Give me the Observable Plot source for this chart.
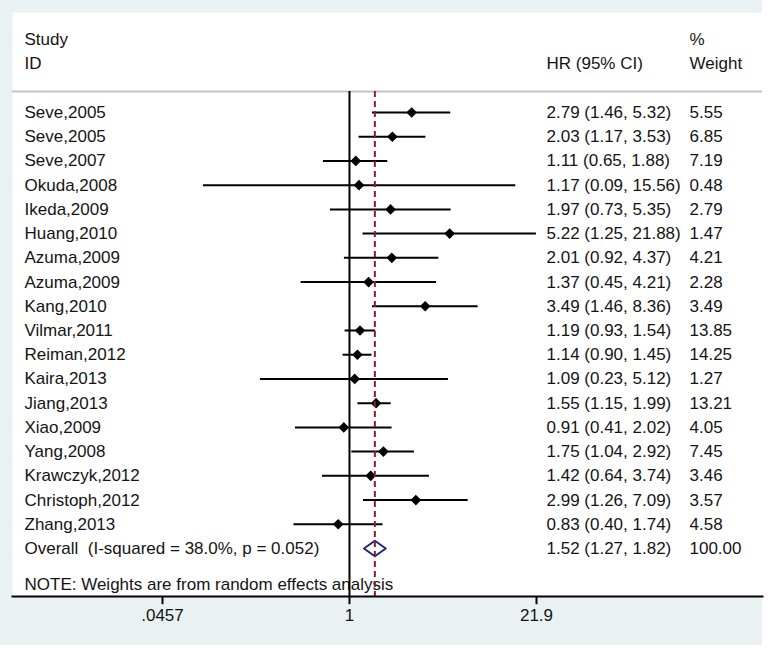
<!DOCTYPE html>
<html>
<head>
<meta charset="utf-8">
<script src="https://cdn.jsdelivr.net/npm/d3@7"></script>
<script src="https://cdn.jsdelivr.net/npm/@observablehq/plot@0.6"></script>
<style>
  html, body { margin: 0; padding: 0; background: #ffffff; }
  #wrap { position: relative; width: 768px; height: 651px; }
  #bg { position: absolute; left: 0; top: 0; width: 762px; height: 645px; background: #eaf1f3; }
  #chart { position: absolute; left: 0; top: 0; }
</style>
</head>
<body>
<div id="wrap"><div id="bg"></div><div id="chart"></div></div>
<script>
const studies = ["Seve,2005","Seve,2005","Seve,2007","Okuda,2008","Ikeda,2009","Huang,2010","Azuma,2009","Azuma,2009","Kang,2010","Vilmar,2011","Reiman,2012","Kaira,2013","Jiang,2013","Xiao,2009","Yang,2008","Krawczyk,2012","Christoph,2012","Zhang,2013"];
const hr = [2.79,2.03,1.11,1.17,1.97,5.22,2.01,1.37,3.49,1.19,1.14,1.09,1.55,0.91,1.75,1.42,2.99,0.83];
const lo = [1.46,1.17,0.65,0.09,0.73,1.25,0.92,0.45,1.46,0.93,0.90,0.23,1.15,0.41,1.04,0.64,1.26,0.40];
const hi = [5.32,3.53,1.88,15.56,5.35,21.88,4.37,4.21,8.36,1.54,1.45,5.12,1.99,2.02,2.92,3.74,7.09,1.74];
const weights = [5.55,6.85,7.19,0.48,2.79,1.47,4.21,2.28,3.49,13.85,14.25,1.27,13.21,4.05,7.45,3.46,3.57,4.58];
const overallLabel = "Overall\u00a0 (I-squared = 38.0%, p = 0.052)";
const overallHR = 1.52, overallLo = 1.27, overallHi = 1.82, overallWeight = 100.00;
const tickValues = [0.0457, 1, 21.9];
const tickLabels = [".0457", "1", "21.9"];
const noteText = "NOTE: Weights are from random effects analysis";

const fmt = v => v.toFixed(2);
const rows = studies.map((s, i) => ({
  i, study: s, hr: hr[i], lo: lo[i], hi: hi[i],
  ci: `${fmt(hr[i])} (${fmt(lo[i])}, ${fmt(hi[i])})`,
  w: fmt(weights[i])
}));
const oi = studies.length;
const overallRow = {i: oi, study: overallLabel,
  ci: `${fmt(overallHR)} (${fmt(overallLo)}, ${fmt(overallHi)})`, w: fmt(overallWeight)};
const textRows = [...rows, overallRow];
const dh = 0.32;
const diamond = [
  {x: overallLo, y: oi}, {x: overallHR, y: oi - dh}, {x: overallHi, y: oi},
  {x: overallHR, y: oi + dh}, {x: overallLo, y: oi}
];
const ticks = tickValues.map((v, i) => ({v, label: tickLabels[i]}));

const headerY = -0.87, bottomY = 19.98;
const txt = "#141414";
const colHR = 534, colW = 677, colStudy = 12;

const chart = Plot.plot({
  width: 768, height: 651,
  marginLeft: 12, marginRight: 6, marginTop: 12, marginBottom: 55,
  style: {fontFamily: "'Liberation Sans', Arial, sans-serif", fontSize: "17px", background: "transparent", color: txt},
  x: {type: "log", domain: [0.0457, 21.9], range: [162, 536], axis: null},
  y: {domain: [0, 18], range: [112, 548], axis: null},
  marks: [
    Plot.frame({fill: "white", stroke: "none"}),
    Plot.ruleY([headerY], {stroke: "#c4c4c4", strokeWidth: 2}),
    // header texts
    Plot.text(["Study"], {y: -3.03, frameAnchor: "left", dx: colStudy, textAnchor: "start", fill: txt}),
    Plot.text(["ID"], {y: -2.02, frameAnchor: "left", dx: colStudy, textAnchor: "start", fill: txt}),
    Plot.text(["HR (95% CI)"], {y: -2.02, frameAnchor: "left", dx: colHR, textAnchor: "start", fill: txt}),
    Plot.text(["%"], {y: -3.03, frameAnchor: "left", dx: colW, textAnchor: "start", fill: txt}),
    Plot.text(["Weight"], {y: -2.02, frameAnchor: "left", dx: colW, textAnchor: "start", fill: txt}),
    // rows
    Plot.text(textRows, {y: "i", text: "study", frameAnchor: "left", dx: colStudy, textAnchor: "start", fill: txt}),
    Plot.text(textRows, {y: "i", text: "ci", frameAnchor: "left", dx: colHR, textAnchor: "start", fill: txt}),
    Plot.text(textRows, {y: "i", text: "w", frameAnchor: "left", dx: colW, textAnchor: "start", fill: txt}),
    Plot.text([noteText], {y: 19.49, frameAnchor: "left", dx: colStudy, textAnchor: "start", fill: txt}),
    // null line
    Plot.ruleX([1], {y1: headerY, y2: bottomY, stroke: "black", strokeWidth: 2}),
    // CIs
    Plot.ruleY(rows, {y: "i", x1: "lo", x2: "hi", stroke: "black", strokeWidth: 2}),
    Plot.dot(rows, {x: "hr", y: "i", symbol: "diamond2", fill: "black", stroke: "none", r: 4.8}),
    // overall diamond
    Plot.line(diamond, {x: "x", y: "y", stroke: "#1e2677", strokeWidth: 2, curve: "linear"}),
    Plot.ruleX([overallHR], {y1: headerY, y2: bottomY, stroke: "#8c1c2a", strokeWidth: 2, strokeDasharray: "6,4"}),
    // axis
    Plot.frame({anchor: "bottom", stroke: "black", strokeWidth: 2}),
    Plot.ruleX(ticks, {x: "v", y1: bottomY, y2: bottomY + 0.34, stroke: "black", strokeWidth: 2}),
    Plot.text(ticks, {x: "v", text: "label", frameAnchor: "bottom", dy: 24, fill: txt})
  ]
});
document.getElementById("chart").appendChild(chart);
</script>
</body>
</html>
